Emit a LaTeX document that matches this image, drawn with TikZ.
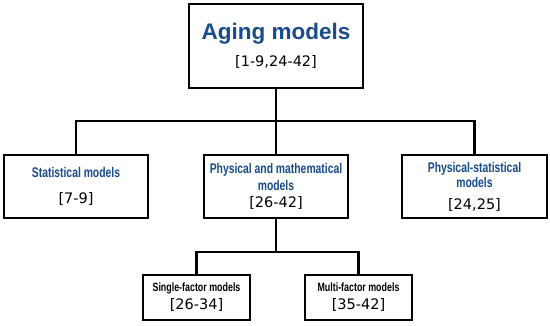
\documentclass[tikz,border=0pt]{standalone}
\usepackage{fontspec}
\setmainfont{DejaVu Sans}
\newfontfamily\headfont{Liberation Sans}
\newfontfamily\narrowfont[FakeStretch=0.74]{Liberation Sans}
\newfontfamily\reffont{DejaVu Sans}
\definecolor{modelblue}{RGB}{24,76,142}

\newcommand{\bluehead}[1]{{\narrowfont\bfseries\fontsize{14}{15}\selectfont\color{modelblue}#1}}
\newcommand{\blackhead}[1]{{\narrowfont\bfseries\fontsize{12}{13}\selectfont #1}}
\newcommand{\refs}[1]{{\reffont\fontsize{14.5}{16}\selectfont #1}}

\tikzset{
  modelbox/.style={draw=black, line width=2.6pt, fill=white, inner sep=0pt, align=center},
  link/.style={line width=2.6pt, line join=miter}
}

\begin{document}
\begin{tikzpicture}[x=1pt, y=-1pt]
\useasboundingbox (0,0) rectangle (550,325);

%TOP BOX
\node[modelbox, minimum width=174pt, minimum height=84pt,
      font=\fontsize{22.5}{26.5}\selectfont] (aging) at (276,46)
  {{\headfont\bfseries\color{modelblue}Aging models}\\
   \refs{[1-9,24-42]}};

%%%%%%%%%%%%%%%%%%%%
%SECOND LEVEL
\node[modelbox, minimum width=144pt, minimum height=63pt,
      font=\fontsize{14}{26.7}\selectfont] (stat) at (76,186.5)
  {\bluehead{Statistical models}\\
   \refs{[7-9]}};
\node[modelbox, minimum width=144pt, minimum height=63pt,
      font=\fontsize{14}{16.5}\selectfont] (phys) at (276,186.5)
  {\bluehead{Physical and mathematical}\\
   \bluehead{models}\\[1pt]
   \refs{[26-42]}};
\node[modelbox, minimum width=145pt, minimum height=63pt,
      font=\fontsize{14}{15.6}\selectfont] (physstat) at (474.5,186.5)
  {\bluehead{Physical-statistical}\\
   \bluehead{models}\\[6pt]
   \refs{[24,25]}};

%%%%%%%%%%%%%%%%%%%%
%THIRD LEVEL
\node[modelbox, minimum width=107pt, minimum height=45pt,
      font=\fontsize{12}{18}\selectfont] (single) at (196.5,297.5)
  {\blackhead{Single-factor models}\\
   \refs{[26-34]}};
\node[modelbox, minimum width=107pt, minimum height=45pt,
      font=\fontsize{12}{18}\selectfont] (multi) at (358.5,297.5)
  {\blackhead{Multi-factor models}\\
   \refs{[35-42]}};

%links
\coordinate (split1) at (276,121);
\coordinate (split2) at (276,252);
\draw[link] (aging.south) -- (split1);
\draw[link] (stat.north) |- (split1) -| (physstat.north);
\draw[link] (split1) -- (phys.north);
%%%%%%%%%%%
\draw[link] (phys.south) -- (split2);
\draw[link] (single.north) |- (split2) -| (multi.north);
\end{tikzpicture}
\end{document}
